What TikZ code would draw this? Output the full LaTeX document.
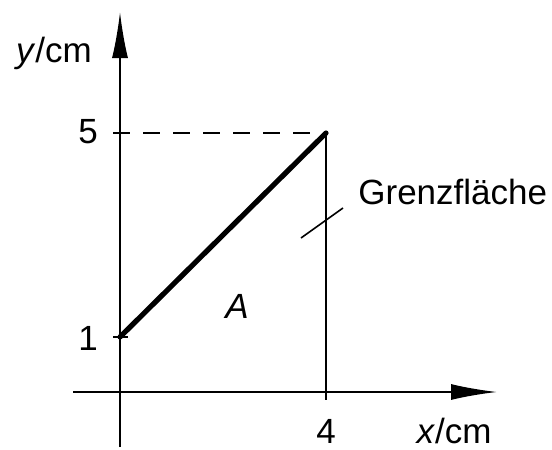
\documentclass[tikz,border=0pt]{standalone}
\usepackage{fontspec}
\setmainfont{Liberation Sans}
\usetikzlibrary{arrows.meta}
\begin{document}
\begin{tikzpicture}[x=0.5pt,y=-0.5pt,
  axis/.style={line width=0.9pt,-{Latex[length=23pt,width=8pt]}},
  thin line/.style={line width=0.8pt},
  lbl/.style={inner sep=0pt,anchor=base,font=\fontsize{17.5pt}{20pt}\selectfont}]
\useasboundingbox (0,0) rectangle (552,450);
% coordinates
\coordinate (xs) at (73,392);
\coordinate (xe) at (497,392);
\coordinate (ys) at (120,447);
\coordinate (ye) at (120,12);
\coordinate (p1) at (120,337);
\coordinate (p5) at (326,133);
\coordinate (t5) at (113,133);
\coordinate (x4) at (326,392);
\coordinate (x4b) at (326,400);
\coordinate (t1a) at (113,337);
\coordinate (t1b) at (128,337);
\coordinate (la) at (343,208);
\coordinate (lb) at (301,238);
% axes
\draw[axis] (xs) -- (xe);
\draw[axis] (ys) -- (ye);
% dashed line and boundary
\draw[thin line,dash pattern=on 8.5pt off 6.5pt] (t5) -- (p5);
\draw[thin line] (p5) -- (x4b);
\draw[thin line] (t1a) -- (t1b);
% thick line
\draw[line width=2.6pt,line cap=round] (p1) -- (p5);
% leader
\draw[thin line] (la) -- (lb);
% labels
\node[lbl] (ylab) at (54,62) {\textit{y}/cm};
\node[lbl] (xlab) at (454,443) {\textit{x}/cm};
\node[lbl] (l5) at (88,143) {5};
\node[lbl] (l1) at (88,350) {1};
\node[lbl] (l4) at (326,443) {4};
\node[lbl] (lA) at (237,318) {\textit{A}};
\node[lbl,anchor=base west] (gf) at (358,204) {Grenzfläche};
\end{tikzpicture}
\end{document}
